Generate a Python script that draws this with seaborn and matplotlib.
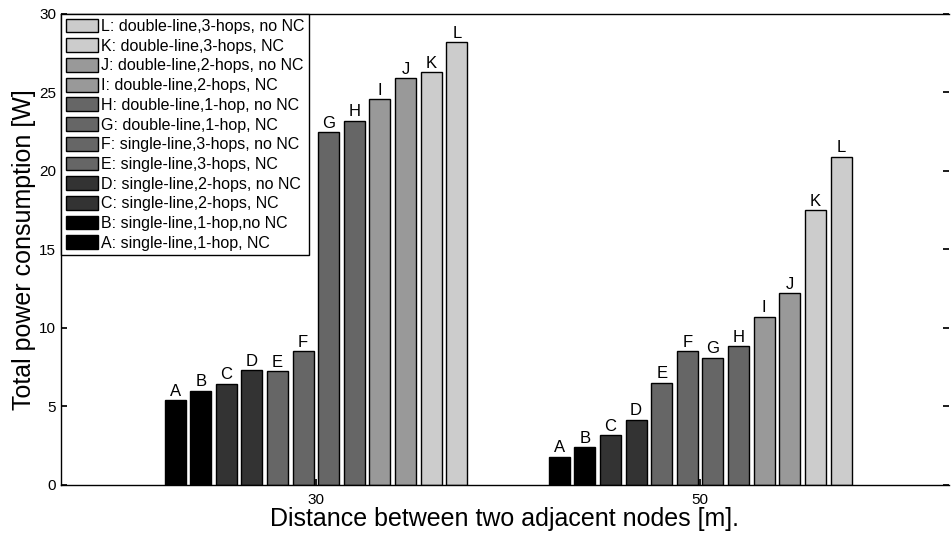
import pandas as pd
import matplotlib.pyplot as plt
import seaborn as sns

# distances (x groups)
distances = ["30", "50"]

# scheme labels, A..L
schemes = [
    "A: single-line,1-hop, NC",
    "B: single-line,1-hop,no NC",
    "C: single-line,2-hops, NC",
    "D: single-line,2-hops, no NC",
    "E: single-line,3-hops, NC",
    "F: single-line,3-hops, no NC",
    "G: double-line,1-hop, NC",
    "H: double-line,1-hop, no NC",
    "I: double-line,2-hops, NC",
    "J: double-line,2-hops, no NC",
    "K: double-line,3-hops, NC",
    "L: double-line,3-hops, no NC",
]

# power values [W]
power_30 = [5.4, 6.0, 6.45, 7.3, 7.25, 8.5, 22.45, 23.2, 24.55, 25.9, 26.3, 28.2]
power_50 = [1.8, 2.4, 3.15, 4.15, 6.5, 8.5, 8.1, 8.85, 10.7, 12.2, 17.5, 20.9]

bar_colors = ["#000000", "#000000", "#333333", "#333333", "#666666", "#666666",
              "#666666", "#666666", "#999999", "#999999", "#cccccc", "#cccccc"]

rows = []
for s, v30, v50 in zip(schemes, power_30, power_50):
    rows.append({"distance": distances[0], "scheme": s, "power": v30})
    rows.append({"distance": distances[1], "scheme": s, "power": v50})
df = pd.DataFrame(rows)

sns.set_theme(style="white")
plt.rcParams["font.family"] = ["Liberation Sans", "DejaVu Sans"]
plt.rcParams.update({"text.color": "black", "axes.labelcolor": "black",
                     "xtick.color": "black", "ytick.color": "black"})

fig = plt.figure(figsize=(9.51, 5.34), dpi=100)
ax = fig.add_axes([0.064, 0.092, 0.934, 0.882])

sns.barplot(data=df, x="distance", y="power", hue="scheme", order=distances,
            hue_order=schemes, palette=bar_colors, saturation=1, gap=0.18,
            edgecolor="black", linewidth=1, ax=ax, legend=True)

# letter on top of each bar
for cont, s in zip(ax.containers, schemes):
    ax.bar_label(cont, labels=[s[0]] * len(cont), padding=1, fontsize=12, color="black")

ax.set_xlim(-0.664, 1.648)
ax.set_ylim(0, 30)
ax.set_yticks(range(0, 31, 5))
ax.set_xlabel("Distance between two adjacent nodes [m].", fontsize=18, labelpad=0)
ax.set_ylabel("Total power consumption [W]", fontsize=18, labelpad=2)
ax.tick_params(axis="both", direction="in", length=4, labelsize=11,
               left=True, right=True, bottom=True, top=False)
ax.tick_params(axis="x", pad=6)

for side in ["left", "bottom", "top"]:
    ax.spines[side].set_color("black")
    ax.spines[side].set_linewidth(1)
ax.spines["right"].set_visible(False)

handles, labels = ax.get_legend_handles_labels()
leg = ax.legend(handles[::-1], labels[::-1], loc="upper left", bbox_to_anchor=(0, 1),
                borderaxespad=0, fontsize=11.5, frameon=True, fancybox=False,
                edgecolor="black", framealpha=1, handlelength=2.0, handleheight=0.95,
                handletextpad=0.2, labelspacing=0.27, borderpad=0.3)
leg.get_frame().set_linewidth(1)

plt.savefig("out.png", dpi=100)
